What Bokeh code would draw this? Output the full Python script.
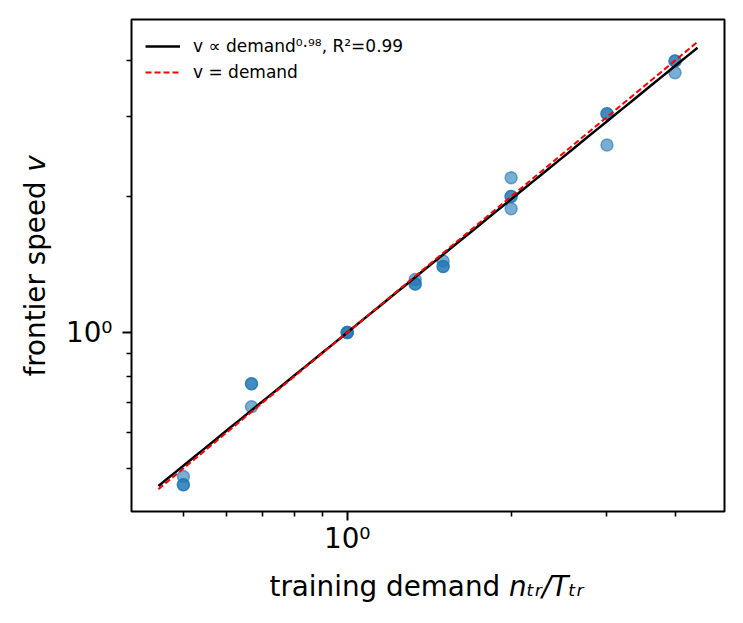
import math
import numpy as np
from bokeh.plotting import figure
from bokeh.models import (Range1d, FixedTicker, CustomJSTickFormatter, Label,
                          Legend, LegendItem)
from bokeh.embed import file_html
from bokeh.resources import INLINE

# ---------------- data ----------------
demand = [0.5, 0.5, 0.5,
          0.667, 0.667, 0.667,
          1.0, 1.0, 1.0,
          1.333, 1.333, 1.333,
          1.5, 1.5, 1.5,
          2.0, 2.0, 2.0, 2.0,
          3.0, 3.0, 3.0,
          4.0, 4.0, 4.0]
speed = [0.48, 0.46, 0.46,
         0.77, 0.77, 0.685,
         1.0, 1.0, 1.0,
         1.31, 1.28, 1.28,
         1.44, 1.40, 1.40,
         2.20, 2.00, 2.00, 1.88,
         3.05, 3.05, 2.60,
         3.99, 3.99, 3.76]
fit_exponent = 0.98
fit_coef = 1.0
fit_r2 = 0.99
major_ticks = [1.0]
x_minor_ticks = [0.5, 0.6, 0.7, 0.8, 0.9, 2, 3, 4]
y_minor_ticks = [0.5, 0.6, 0.7, 0.8, 0.9, 2, 3, 4]
legend_fit = "v ∝ demand⁰·⁹⁸, R²=0.99"
legend_id = "v = demand"
x_label_parts = ["training demand", "nₜᵣ/Tₜᵣ"]
y_label_parts = ["frontier speed", "v"]

# ---------------- derived ----------------
lo = min(demand) * 0.9
hi = max(demand) * 1.1
line_x = np.geomspace(lo, hi, 60)
fit_y = fit_coef * line_x ** fit_exponent
id_y = line_x.copy()

llo, lhi = math.log10(lo), math.log10(hi)
span = lhi - llo
r_lo = 10 ** (llo - 0.05 * span)
r_hi = 10 ** (lhi + 0.05 * span)

FONT = "DejaVu Sans"
FS = 27.8  # px
W, H = 743, 623
BL, BR, BT, BB = 131, 19, 19, 112
FW, FH = W - BL - BR, H - BT - BB
lspan = math.log10(r_hi) - math.log10(r_lo)


def px_x(X):
    """canvas pixel x -> data x (layout helper for text placement)"""
    return 10 ** (math.log10(r_lo) + (X - BL) / FW * lspan)


def px_y(Y):
    """canvas pixel y -> data y (layout helper for text placement)"""
    return 10 ** (math.log10(r_lo) + ((H - BB) - Y) / FH * lspan)


p = figure(width=W, height=H, x_axis_type="log", y_axis_type="log",
           x_range=Range1d(r_lo, r_hi), y_range=Range1d(r_lo, r_hi),
           output_backend="svg", toolbar_location=None,
           min_border_left=BL, min_border_right=BR,
           min_border_top=BT, min_border_bottom=BB,
           background_fill_color="white", border_fill_color="white")
p.xgrid.visible = False
p.ygrid.visible = False
p.outline_line_color = "black"
p.outline_line_width = 2
p.outline_line_alpha = 1.0

fmt = CustomJSTickFormatter(code="""
const s = {'0':'\u2070','1':'\u00b9','2':'\u00b2','3':'\u00b3','4':'\u2074',
           '5':'\u2075','6':'\u2076','7':'\u2077','8':'\u2078','9':'\u2079','-':'\u207b'};
const e = String(Math.round(Math.log10(tick)));
return '10' + e.split('').map(c => s[c]).join('');
""")

for ax, minor in ((p.xaxis[0], x_minor_ticks), (p.yaxis[0], y_minor_ticks)):
    ax.ticker = FixedTicker(ticks=major_ticks, minor_ticks=minor)
    ax.formatter = fmt
    ax.axis_line_color = None
    ax.major_tick_line_color = "black"
    ax.minor_tick_line_color = "black"
    ax.major_tick_line_width = 2
    ax.minor_tick_line_width = 1.6
    ax.major_tick_out = 9
    ax.major_tick_in = 0
    ax.minor_tick_out = 5
    ax.minor_tick_in = 0
    ax.major_label_text_font = FONT
    ax.major_label_text_font_size = f"{FS}px"
    ax.major_label_text_color = "black"
p.xaxis[0].major_label_standoff = 1
p.yaxis[0].major_label_standoff = 10

# scatter
p.scatter(demand, speed, size=12, fill_color="#1f77b4", fill_alpha=0.6,
          line_color="#1f77b4", line_alpha=0.6, line_width=1.5)

# lines
r_fit = p.line(line_x, fit_y, line_color="black", line_width=2.5)
r_id = p.line(line_x, id_y, line_color="red", line_width=2, line_dash="6 3")

legend = Legend(items=[LegendItem(label=legend_fit, renderers=[r_fit]),
                       LegendItem(label=legend_id, renderers=[r_id])],
                location="top_left", margin=0, padding=14, spacing=0,
                glyph_width=35, glyph_height=26, label_height=26,
                label_standoff=13, label_text_font=FONT,
                label_text_font_size="17px", label_text_color="black",
                background_fill_alpha=0, border_line_alpha=0)
p.add_layout(legend)

# ---- composed axis labels, kept in side panels so they are not clipped ----
def lab(text, X, Y, side, italic=False, angle=0.0):
    p.add_layout(Label(x=px_x(X), y=px_y(Y), x_units="data", y_units="data",
                       text=text, text_font=FONT, text_font_size=f"{FS}px",
                       text_font_style="italic" if italic else "normal",
                       text_color="black", text_align="left",
                       text_baseline="alphabetic", angle=angle), side)

# x label: starts at canvas x=269
XL_BASE = 586
lab(x_label_parts[0], 269, XL_BASE, "below")
lab(x_label_parts[1], 269 + (8.299 + 0.318) * FS, XL_BASE, "below", italic=True)

# y label: rotated, starts at canvas y=376
YL_BASE = 35
lab(y_label_parts[0], YL_BASE, 376, "left", angle=math.pi / 2)
lab(y_label_parts[1], YL_BASE, 376 - (3.705 + 0.318 + 3.021 + 0.318) * FS,
    "above", italic=True, angle=math.pi / 2)

open("out.html", "w").write(file_html(p, INLINE))
